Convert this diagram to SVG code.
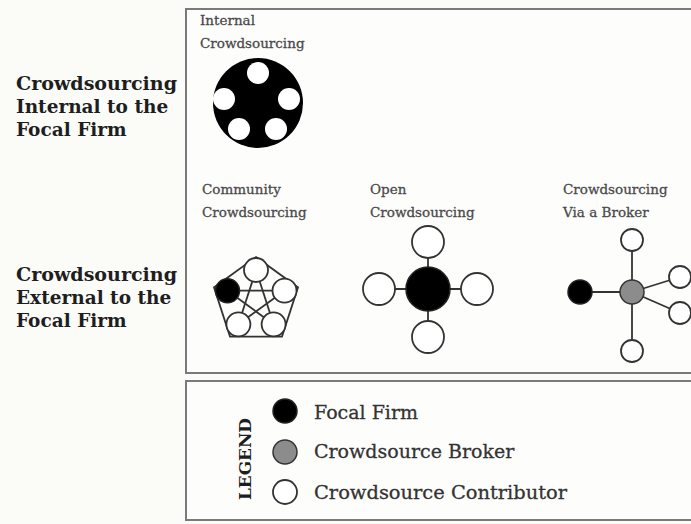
<svg xmlns="http://www.w3.org/2000/svg" width="691" height="524" viewBox="0 0 691 524">
<style>
.bg{fill:#fbfbf8}
.box{fill:#fdfdfc;stroke:#7a7a7a;stroke-width:2}
.head{font-family:"DejaVu Serif","Liberation Serif",serif;font-weight:bold;font-size:18.5px;fill:#1e1e1e}
.lab{font-family:"DejaVu Serif","Liberation Serif",serif;font-size:13.5px;fill:#4a4a4a;stroke:#4a4a4a;stroke-width:0.3}
.leg{font-family:"DejaVu Serif","Liberation Serif",serif;font-size:19px;fill:#333;stroke:#333;stroke-width:0.3}
.legt{font-family:"DejaVu Serif","Liberation Serif",serif;font-weight:bold;font-size:16px;fill:#1e1e1e}
.firm{fill:#000;stroke:#222;stroke-width:1.5}
.broker{fill:#8c8c8c;stroke:#333;stroke-width:1.5}
.contrib{fill:#fff;stroke:#333;stroke-width:1.8}
.hole{fill:#fff;stroke:none}
.edge{stroke:#333;stroke-width:1.8;fill:none}
</style>
<rect class="bg" x="0" y="0" width="691" height="524"/>
<rect class="box" x="186" y="9" width="520" height="364"/>
<rect class="box" x="186" y="381" width="520" height="139"/>

<g id="row-labels">
<text class="head" x="16" y="90" textLength="161" lengthAdjust="spacingAndGlyphs">Crowdsourcing</text>
<text class="head" x="16" y="113">Internal to the</text>
<text class="head" x="16" y="136">Focal Firm</text>
<text class="head" x="16" y="281" textLength="161" lengthAdjust="spacingAndGlyphs">Crowdsourcing</text>
<text class="head" x="16" y="304">External to the</text>
<text class="head" x="16" y="327">Focal Firm</text>
</g>

<g id="internal">
<text class="lab" x="200" y="25">Internal</text>
<text class="lab" x="200" y="48">Crowdsourcing</text>
<circle cx="258" cy="103" r="45" fill="#000"/>
<circle class="hole" cx="258" cy="73" r="11"/>
<circle class="hole" cx="224" cy="99" r="11"/>
<circle class="hole" cx="289" cy="99" r="11"/>
<circle class="hole" cx="239" cy="129" r="11"/>
<circle class="hole" cx="276" cy="129" r="11"/>
</g>

<g id="connectors">
<polygon class="edge" points="256,257 298,287.4 282,336.6 230,336.6 214,287.4"/>
<line class="edge" x1="256" y1="270" x2="238.4" y2="324.3"/>
<line class="edge" x1="256" y1="270" x2="273.6" y2="324.3"/>
<line class="edge" x1="227.5" y1="290.7" x2="284.5" y2="290.7"/>
<line class="edge" x1="227.5" y1="290.7" x2="273.6" y2="324.3"/>
<line class="edge" x1="284.5" y1="290.7" x2="238.4" y2="324.3"/>
<line class="edge" x1="428" y1="242" x2="428" y2="337"/>
<line class="edge" x1="379" y1="289" x2="477" y2="289"/>
<line class="edge" x1="580" y1="292" x2="632" y2="292"/>
<line class="edge" x1="632" y1="240" x2="632" y2="351"/>
<line class="edge" x1="632" y1="292" x2="680" y2="277"/>
<line class="edge" x1="632" y1="292" x2="680" y2="313"/>
</g>

<g id="community">
<text class="lab" x="202" y="194">Community</text>
<text class="lab" x="202" y="217">Crowdsourcing</text>
<circle class="contrib" cx="256" cy="270" r="12"/>
<circle class="contrib" cx="284.5" cy="290.7" r="12"/>
<circle class="contrib" cx="273.6" cy="324.3" r="12"/>
<circle class="contrib" cx="238.4" cy="324.3" r="12"/>
<circle class="firm" cx="227.5" cy="290.7" r="12"/>
</g>

<g id="open">
<text class="lab" x="370" y="194">Open</text>
<text class="lab" x="370" y="217">Crowdsourcing</text>
<circle class="firm" cx="428" cy="289" r="22"/>
<circle class="contrib" cx="428" cy="242" r="16"/>
<circle class="contrib" cx="379" cy="289" r="16"/>
<circle class="contrib" cx="477" cy="289" r="16"/>
<circle class="contrib" cx="428" cy="337" r="16"/>
</g>

<g id="broker">
<text class="lab" x="563" y="194">Crowdsourcing</text>
<text class="lab" x="563" y="217">Via a Broker</text>
<circle class="firm" cx="580" cy="292" r="12"/>
<circle class="broker" cx="632" cy="292" r="12"/>
<circle class="contrib" cx="632" cy="240" r="11"/>
<circle class="contrib" cx="632" cy="351" r="11"/>
<circle class="contrib" cx="680" cy="277" r="11"/>
<circle class="contrib" cx="680" cy="313" r="11"/>
</g>

<g id="legend">
<text class="legt" transform="translate(251,459) rotate(-90)" text-anchor="middle" textLength="82" lengthAdjust="spacingAndGlyphs">LEGEND</text>
<circle class="firm" cx="285" cy="411" r="12"/>
<circle class="broker" cx="285" cy="452" r="12"/>
<circle class="contrib" cx="285" cy="492" r="12"/>
<text class="leg" x="314" y="419">Focal Firm</text>
<text class="leg" x="314" y="458">Crowdsource Broker</text>
<text class="leg" x="314" y="499" textLength="253" lengthAdjust="spacingAndGlyphs">Crowdsource Contributor</text>
</g>
</svg>
